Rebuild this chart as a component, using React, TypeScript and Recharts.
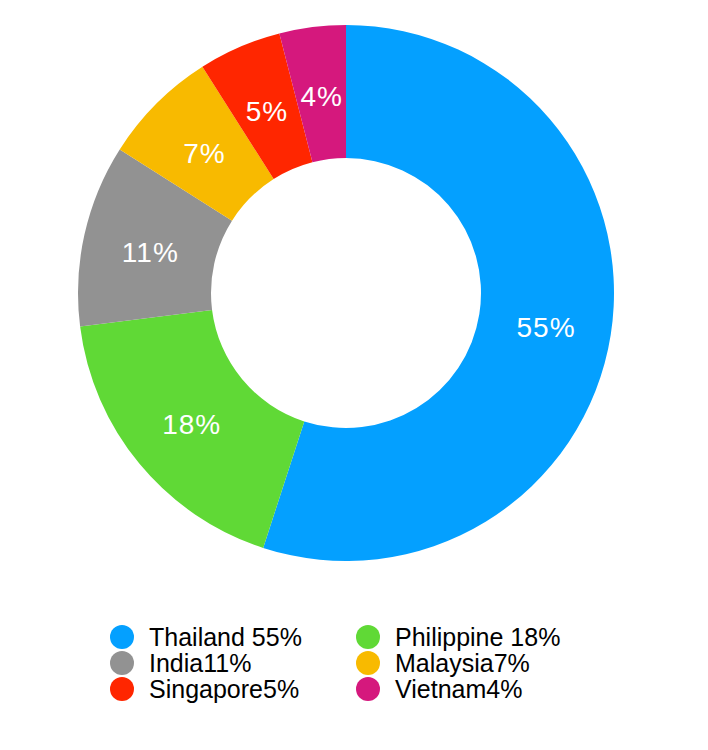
import { PieChart, Pie, Cell, Legend } from 'recharts'

const COUNTRIES = ['Thailand', 'Philippine', 'India', 'Malaysia', 'Singapore', 'Vietnam']
const SHARES = [55, 18, 11, 7, 5, 4]
const LEGEND_LABELS = ['Thailand 55%', 'Philippine 18%', 'India11%', 'Malaysia7%', 'Singapore5%', 'Vietnam4%']
const COLORS = ['#04A0FF', '#60D936', '#929292', '#F8BA00', '#FF2600', '#D5187D']

const data = COUNTRIES.map((name, i) => ({ name, value: SHARES[i], legend: LEGEND_LABELS[i] }))

const FONT = '"Liberation Sans", Arial, Helvetica, sans-serif'
const RAD = Math.PI / 180

function renderLabel(props: any) {
  const { cx, cy, midAngle, innerRadius, outerRadius, value } = props
  const r = (innerRadius + outerRadius) / 2
  const x = cx + r * Math.cos(-midAngle * RAD)
  const y = cy + r * Math.sin(-midAngle * RAD)
  return (
    <text
      x={x + 1}
      y={y + 3}
      fill="#fff"
      fontSize={28}
      letterSpacing={1}
      fontFamily={FONT}
      textAnchor="middle"
      dominantBaseline="central"
    >
      {`${value}%`}
    </text>
  )
}

function renderLegend() {
  return (
    <div style={{ display: 'grid', gridTemplateColumns: '246px 246px', rowGap: 2, fontFamily: FONT, fontSize: 25, color: '#000' }}>
      {data.map((d, i) => (
        <div key={d.name} style={{ display: 'flex', alignItems: 'center', height: 24, whiteSpace: 'nowrap' }}>
          <span style={{ width: 24, height: 24, borderRadius: 12, background: COLORS[i], display: 'inline-block', marginRight: 15, flexShrink: 0 }} />
          <span>{d.legend}</span>
        </div>
      ))}
    </div>
  )
}

export default function App() {
  return (
    <PieChart width={692} height={734}>
      <Pie
        data={data}
        dataKey="value"
        nameKey="name"
        cx={333}
        cy={280}
        innerRadius={135}
        outerRadius={268}
        startAngle={90}
        endAngle={-270}
        stroke="none"
        label={renderLabel}
        labelLine={false}
        isAnimationActive={false}
      >
        {data.map((d, i) => (
          <Cell key={d.name} fill={COLORS[i]} />
        ))}
      </Pie>
      <Legend
        content={renderLegend}
        wrapperStyle={{ position: 'absolute', top: 617, left: 102, width: 500 }}
      />
    </PieChart>
  )
}
